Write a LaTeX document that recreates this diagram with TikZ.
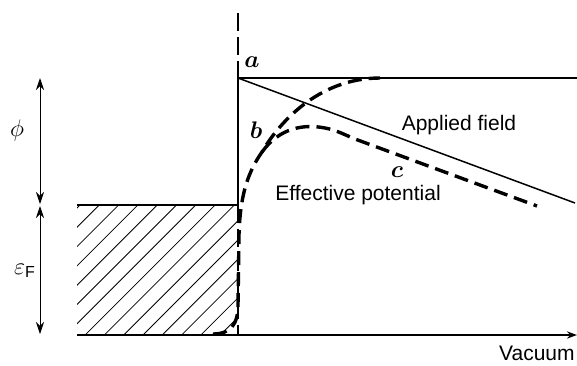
\documentclass[tikz,border=0pt]{standalone}
\usepackage{amsmath}
\usepackage{fontspec}
\setmainfont{Liberation Sans}
\usetikzlibrary{arrows.meta}

\begin{document}
\begin{tikzpicture}[x=0.5pt, y=-0.5pt,
  every node/.style={font=\fontsize{10.5}{12}\selectfont, inner sep=0pt},
  mathlabel/.style={font=\fontsize{12}{14}\selectfont},
  level/.style={line width=1pt},
  field/.style={line width=0.75pt},
  potential/.style={line width=1.7pt, dash pattern=on 7pt off 3.5pt},
  surface/.style={line width=1pt, dash pattern=on 9pt off 3pt},
  span/.style={{Stealth[length=6pt,width=4pt]}-{Stealth[length=6pt,width=4pt]}, line width=0.4pt},
  hatch/.style={line width=0.4pt}
]
\useasboundingbox (0,0) rectangle (577,365);

\coordinate (surftop) at (238,13);
\coordinate (vac) at (238,78);
\coordinate (fermi) at (238,205);
\coordinate (base) at (238,335);
\coordinate (vacend) at (577,78);
\coordinate (fieldend) at (575,203);
\coordinate (metalleft) at (77,205);
\coordinate (axisleft) at (77,335);
\coordinate (axisend) at (577,335);
\coordinate (split) at (262,152);

\begin{scope}
  \clip (metalleft) rectangle (base);
  \foreach \k in {0,...,16}
    \draw[hatch] ({-50+\k*19.3},335) -- ++(130,-130);
\end{scope}

\draw[surface] (surftop) -- (base);
\draw[level] (vac) -- (fermi);
\draw[level] (vac) -- (vacend);
\draw[level] (metalleft) -- (fermi);
\draw[level, -{Stealth[length=5pt,width=3.6pt]}] (axisleft) -- (axisend);
\draw[field] (vac) -- (fieldend);

\draw[potential] (213,334) .. controls (230,334) and (238,325) .. (238,305)
  -- (239,235) .. controls (240,195) and (248,172) .. (split)
  .. controls (278,124) and (318,78) .. (380,78);
\draw[potential] (split) .. controls (280,127) and (305,124) .. (325,128)
  .. controls (336,130) and (343,134) .. (355,139) -- (537,206);

\coordinate (phitop) at (40,78);
\coordinate (phibot) at (40,204);
\coordinate (epstop) at (40,206);
\coordinate (epsbot) at (40,334);
\draw[span] (phitop) -- (phibot);
\draw[span] (epstop) -- (epsbot);

\node[mathlabel] (phi) at (17,130) {$\phi$};
\node[mathlabel] (epsf) at (25,271) {$\varepsilon_{\text{F}}$};
\node[mathlabel] (lbla) at (252,62) {$\boldsymbol{a}$};
\node[mathlabel] (lblb) at (256,130) {$\boldsymbol{b}$};
\node[mathlabel] (lblc) at (397,172) {$\boldsymbol{c}$};
\node (applied) at (459,125) {Applied field};
\node (effective) at (358,195) {Effective potential};
\node[anchor=east] (vacuum) at (575,353) {Vacuum};
\end{tikzpicture}
\end{document}
